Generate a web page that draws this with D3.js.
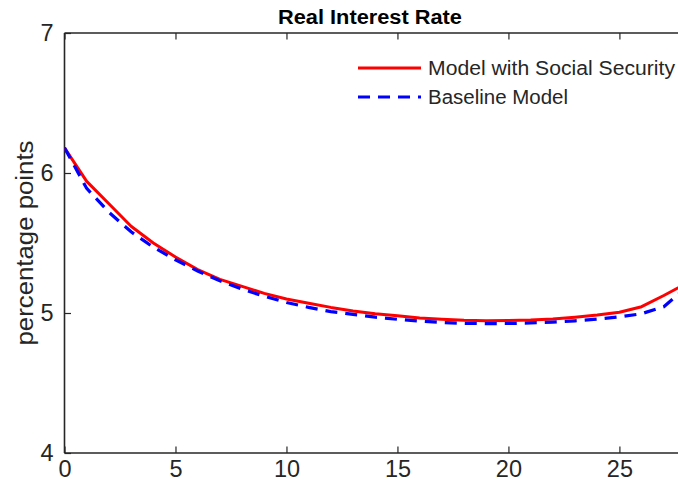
<!DOCTYPE html>
<html>
<head>
<meta charset="utf-8">
<script src="https://cdn.jsdelivr.net/npm/d3@7"></script>
<style>
  html, body { margin: 0; padding: 0; background: #fff; }
  svg { display: block; font-family: "Liberation Sans", Arial, Helvetica, sans-serif; }
</style>
</head>
<body>
<svg id="chart" width="678" height="492"></svg>
<script>
// Periods after the reform
const periods = d3.range(0, 29);

// Real interest rate paths (percentage points)
const withSocialSecurity = [
  6.18, 5.94, 5.78, 5.62, 5.50, 5.40, 5.31, 5.24, 5.19, 5.14,
  5.10, 5.07, 5.04, 5.015, 4.995, 4.98, 4.965, 4.955, 4.948, 4.945,
  4.946, 4.95, 4.958, 4.97, 4.985, 5.005, 5.045, 5.125, 5.21
];
const baseline = [
  6.18, 5.89, 5.72, 5.58, 5.47, 5.38, 5.30, 5.23, 5.17, 5.12,
  5.075, 5.04, 5.01, 4.99, 4.97, 4.955, 4.942, 4.932, 4.926, 4.924,
  4.925, 4.929, 4.935, 4.944, 4.956, 4.972, 4.995, 5.045, 5.18
];

const xTicks = [0, 5, 10, 15, 20, 25];
const yTicks = [4, 5, 6, 7];

const seriesNames = ["Model with Social Security", "Baseline Model"];
const seriesColors = ["#ff0000", "#0000ff"];

const svg = d3.select("#chart");
const m = { left: 64.5, top: 33, right: 686, bottom: 453 };
const axisColor = "#262626";

const x = d3.scaleLinear().domain([0, 28]).range([m.left, m.right]);
const y = d3.scaleLinear().domain([4, 7]).range([m.bottom, m.top]);

svg.append("defs").append("clipPath").attr("id", "plotClip")
  .append("rect")
  .attr("x", m.left).attr("y", m.top)
  .attr("width", m.right - m.left).attr("height", m.bottom - m.top);

// Axes (box with inward ticks)
const tickLen = 6.5;
const gx = svg.append("g").attr("transform", `translate(0,${m.bottom})`)
  .call(d3.axisBottom(x).tickValues(xTicks).tickSize(-tickLen).tickPadding(7).tickFormat(d3.format("d")));
const gxTop = svg.append("g").attr("transform", `translate(0,${m.top})`)
  .call(d3.axisTop(x).tickValues(xTicks).tickSize(-tickLen).tickFormat(""));
const gy = svg.append("g").attr("transform", `translate(${m.left},0)`)
  .call(d3.axisLeft(y).tickValues(yTicks).tickSize(-tickLen).tickPadding(11).tickFormat(d3.format("d")));
const gyRight = svg.append("g").attr("transform", `translate(${m.right},0)`)
  .call(d3.axisRight(y).tickValues(yTicks).tickSize(-tickLen).tickFormat(""));

[gx, gxTop, gy, gyRight].forEach(g => {
  g.select(".domain").attr("stroke", axisColor).attr("stroke-width", 1.6);
  g.selectAll(".tick line").attr("stroke", axisColor).attr("stroke-width", 1.2);
  g.selectAll(".tick text").attr("fill", axisColor).style("font-size", "23.5px");
});
// Straight axis lines without outer ticks
gx.select(".domain").attr("d", `M${m.left},0H${m.right}`);
gxTop.select(".domain").attr("d", `M${m.left},0H${m.right}`);
gy.select(".domain").attr("d", `M0,${m.top}V${m.bottom}`);
gyRight.select(".domain").attr("d", `M0,${m.top}V${m.bottom}`);
gx.selectAll(".tick text").attr("dy", "0.71em");

// Title
svg.append("text")
  .attr("x", 370).attr("y", 24)
  .attr("text-anchor", "middle")
  .attr("textLength", 184).attr("lengthAdjust", "spacingAndGlyphs")
  .style("font-size", "20px").style("font-weight", "bold")
  .attr("fill", "#000")
  .text("Real Interest Rate");

// Y axis label
svg.append("text")
  .attr("transform", `translate(33,243) rotate(-90)`)
  .attr("text-anchor", "middle")
  .attr("textLength", 205).attr("lengthAdjust", "spacingAndGlyphs")
  .style("font-size", "23px")
  .attr("fill", axisColor)
  .text("percentage points");

// Lines
const line = d3.line().x((d, i) => x(periods[i])).y(d => y(d));
const plot = svg.append("g").attr("clip-path", "url(#plotClip)");

plot.append("path").datum(withSocialSecurity)
  .attr("fill", "none").attr("stroke", seriesColors[0])
  .attr("stroke-width", 3).attr("stroke-linejoin", "round")
  .attr("d", line);

plot.append("path").datum(baseline)
  .attr("fill", "none").attr("stroke", seriesColors[1])
  .attr("stroke-width", 3.2).attr("stroke-dasharray", "12,8")
  .attr("d", line);

// Legend
const legend = svg.append("g");
const legendRows = [
  { y: 68, dash: null, len: 247 },
  { y: 97, dash: "12,8", len: 140 }
];
legendRows.forEach((r, i) => {
  legend.append("line")
    .attr("x1", 358).attr("x2", 421).attr("y1", r.y).attr("y2", r.y)
    .attr("stroke", seriesColors[i]).attr("stroke-width", 3)
    .attr("stroke-dasharray", r.dash);
  legend.append("text")
    .attr("x", 428).attr("y", r.y).attr("dy", "0.36em")
    .attr("textLength", r.len).attr("lengthAdjust", "spacingAndGlyphs")
    .style("font-size", "20px").attr("fill", axisColor)
    .text(seriesNames[i]);
});
</script>
</body>
</html>
